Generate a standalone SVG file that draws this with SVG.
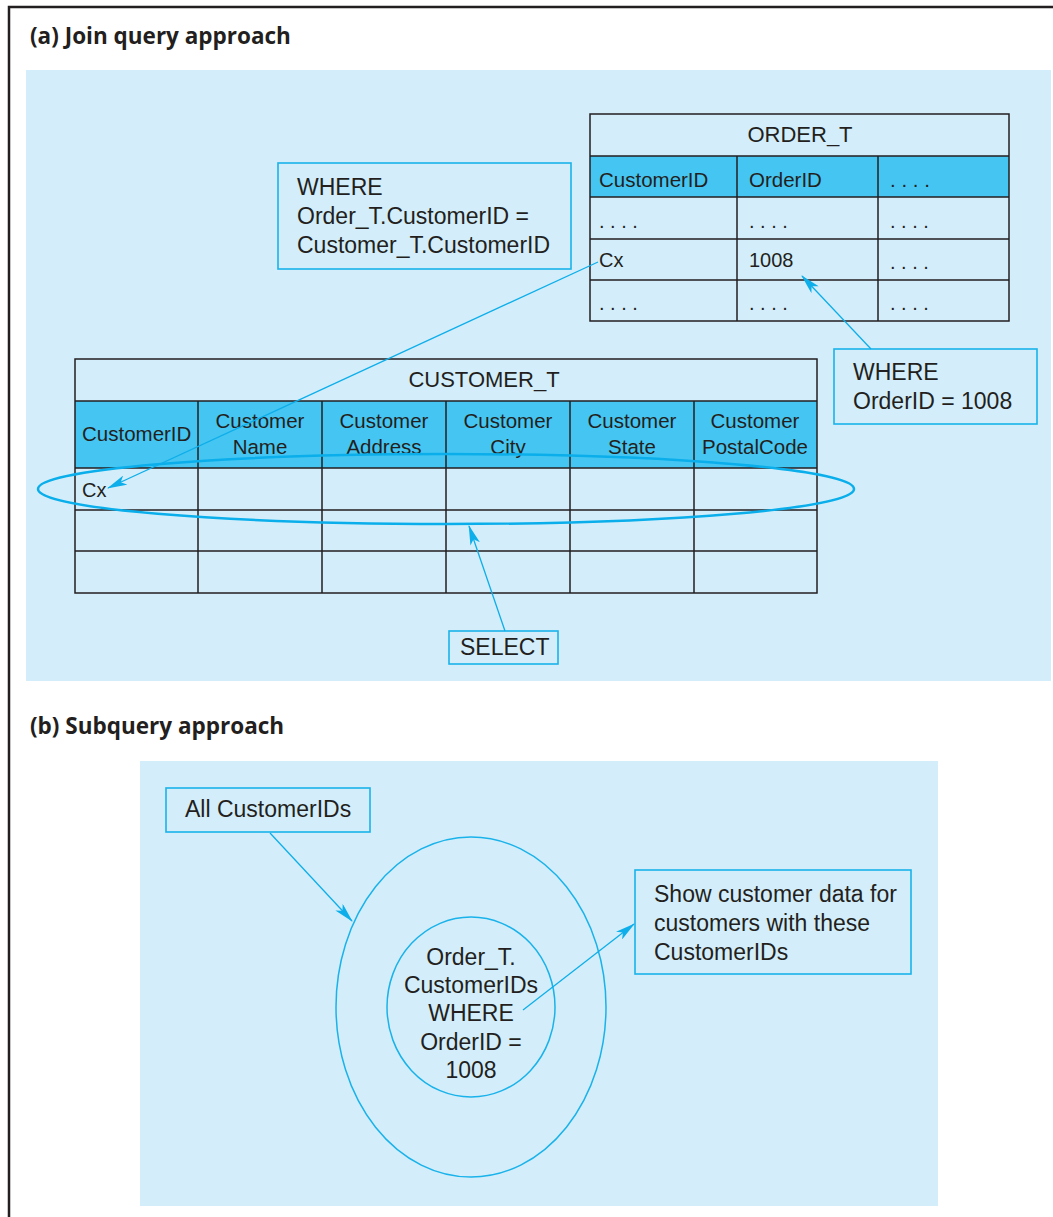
<svg xmlns="http://www.w3.org/2000/svg" width="1053" height="1217" viewBox="0 0 1053 1217">
<style>
.t{font-family:"Liberation Sans",Arial,sans-serif;fill:#231f20}
.b{font-size:23px}
.tt{font-size:22px}
.c{font-size:20.5px}
.s{font-size:20px}
.h{font-family:"Open Sans","Noto Sans",sans-serif;font-weight:bold;font-size:22.5px;fill:#231f20}
.panel{fill:#d3eefa}
.cell{fill:none;stroke:#231f20;stroke-width:1.5}
.hdr{fill:#45c6f2}
.box{fill:none;stroke:#1ab2ea;stroke-width:1.6}
.con{fill:none;stroke:#0eaeea;stroke-width:1.3}
.mid{text-anchor:middle}
</style>
<defs>
<marker id="ar" viewBox="0 0 20 10" refX="19" refY="5" markerWidth="20" markerHeight="10" markerUnits="userSpaceOnUse" orient="auto">
<path d="M0,0 L20,5 L0,10 L5,5 Z" fill="#0eaeea"/>
</marker>
</defs>
<rect width="1053" height="1217" fill="#fff"/>
<path d="M9,1217 V7 H1053" fill="none" stroke="#231f20" stroke-width="2.5"/>
<text class="h" x="30" y="44">(a) Join query approach</text>
<rect class="panel" x="26" y="70" width="1025" height="611"/>
<text class="h" x="30" y="734">(b) Subquery approach</text>
<rect class="panel" x="140" y="761" width="798" height="445"/>

<g id="order_t">
<rect x="590" y="156" width="419" height="41" class="hdr"/>
<rect x="590" y="114" width="419" height="207" class="cell"/>
<path class="cell" d="M590,156H1009M590,197H1009M590,239H1009M590,280H1009M737,156V321M878,156V321"/>
<text class="t tt mid" x="800" y="142">ORDER_T</text>
<text class="t c" x="599" y="187">CustomerID</text>
<text class="t c" x="749" y="187">OrderID</text>
<text class="t c" x="890" y="187">. . . .</text>
<text class="t s" x="599" y="228">. . . .</text>
<text class="t s" x="749" y="228">. . . .</text>
<text class="t s" x="890" y="228">. . . .</text>
<text class="t s" x="599" y="267">Cx</text>
<text class="t s" x="749" y="267">1008</text>
<text class="t s" x="890" y="269">. . . .</text>
<text class="t s" x="599" y="310">. . . .</text>
<text class="t s" x="749" y="310">. . . .</text>
<text class="t s" x="890" y="310">. . . .</text>
</g>

<g id="where_join">
<rect class="box" x="278" y="163" width="293" height="106"/>
<text class="t b" x="297" y="195">WHERE</text>
<text class="t b" x="297" y="224">Order_T.CustomerID =</text>
<text class="t b" x="297" y="253">Customer_T.CustomerID</text>
</g>

<g id="customer_t">
<rect x="75" y="401" width="742" height="67" class="hdr"/>
<rect x="75" y="359" width="742" height="234" class="cell"/>
<path class="cell" d="M75,401H817M75,468H817M75,510H817M75,551H817M198,401V593M322,401V593M446,401V593M570,401V593M694,401V593"/>
<text class="t tt mid" x="484" y="387">CUSTOMER_T</text>
<text class="t c" x="82" y="441">CustomerID</text>
<text class="t c mid" x="260" y="428">Customer</text>
<text class="t c mid" x="260" y="454">Name</text>
<text class="t c mid" x="384" y="428">Customer</text>
<text class="t c mid" x="384" y="454">Address</text>
<text class="t c mid" x="508" y="428">Customer</text>
<text class="t c mid" x="508" y="454">City</text>
<text class="t c mid" x="632" y="428">Customer</text>
<text class="t c mid" x="632" y="454">State</text>
<text class="t c mid" x="755" y="428">Customer</text>
<text class="t c mid" x="755" y="454">PostalCode</text>
<text class="t s" x="82" y="497">Cx</text>
</g>

<g id="select_ring">
<ellipse cx="446" cy="489" rx="408" ry="35" fill="none" stroke="#0aaeea" stroke-width="2.5"/>
</g>

<g id="where_order">
<rect class="box" x="834" y="349" width="203" height="75"/>
<text class="t b" x="853" y="380">WHERE</text>
<text class="t b" x="853" y="409">OrderID = 1008</text>
</g>

<g id="select">
<rect class="box" x="449" y="631" width="109" height="33"/>
<text class="t b" x="460" y="655">SELECT</text>
</g>

<g id="all_ids">
<rect class="box" x="166" y="788" width="204" height="44"/>
<text class="t b" x="185" y="817">All CustomerIDs</text>
</g>

<g id="outer_set">
<ellipse cx="471" cy="1007" rx="135" ry="170" fill="none" stroke="#1ab2ea" stroke-width="1.5"/>
</g>

<g id="inner_set">
<ellipse cx="471" cy="1007" rx="84" ry="90" fill="none" stroke="#1ab2ea" stroke-width="1.5"/>
<text class="t b mid" x="471" y="965">Order_T.</text>
<text class="t b mid" x="471" y="993">CustomerIDs</text>
<text class="t b mid" x="471" y="1021">WHERE</text>
<text class="t b mid" x="471" y="1050">OrderID =</text>
<text class="t b mid" x="471" y="1078">1008</text>
</g>

<g id="show_box">
<rect class="box" x="635" y="870" width="276" height="104"/>
<text class="t b" x="654" y="902">Show customer data for</text>
<text class="t b" x="654" y="931">customers with these</text>
<text class="t b" x="654" y="960">CustomerIDs</text>
</g>

<g id="connectors">
<line class="con" x1="598" y1="262" x2="108" y2="488" marker-end="url(#ar)"/>
<line class="con" x1="871" y1="349" x2="802" y2="276" marker-end="url(#ar)"/>
<line class="con" x1="505" y1="631" x2="469" y2="526" marker-end="url(#ar)"/>
<line class="con" x1="270" y1="833" x2="352" y2="921" marker-end="url(#ar)"/>
<line class="con" x1="523" y1="1010" x2="634" y2="924" marker-end="url(#ar)"/>
</g>
</svg>
